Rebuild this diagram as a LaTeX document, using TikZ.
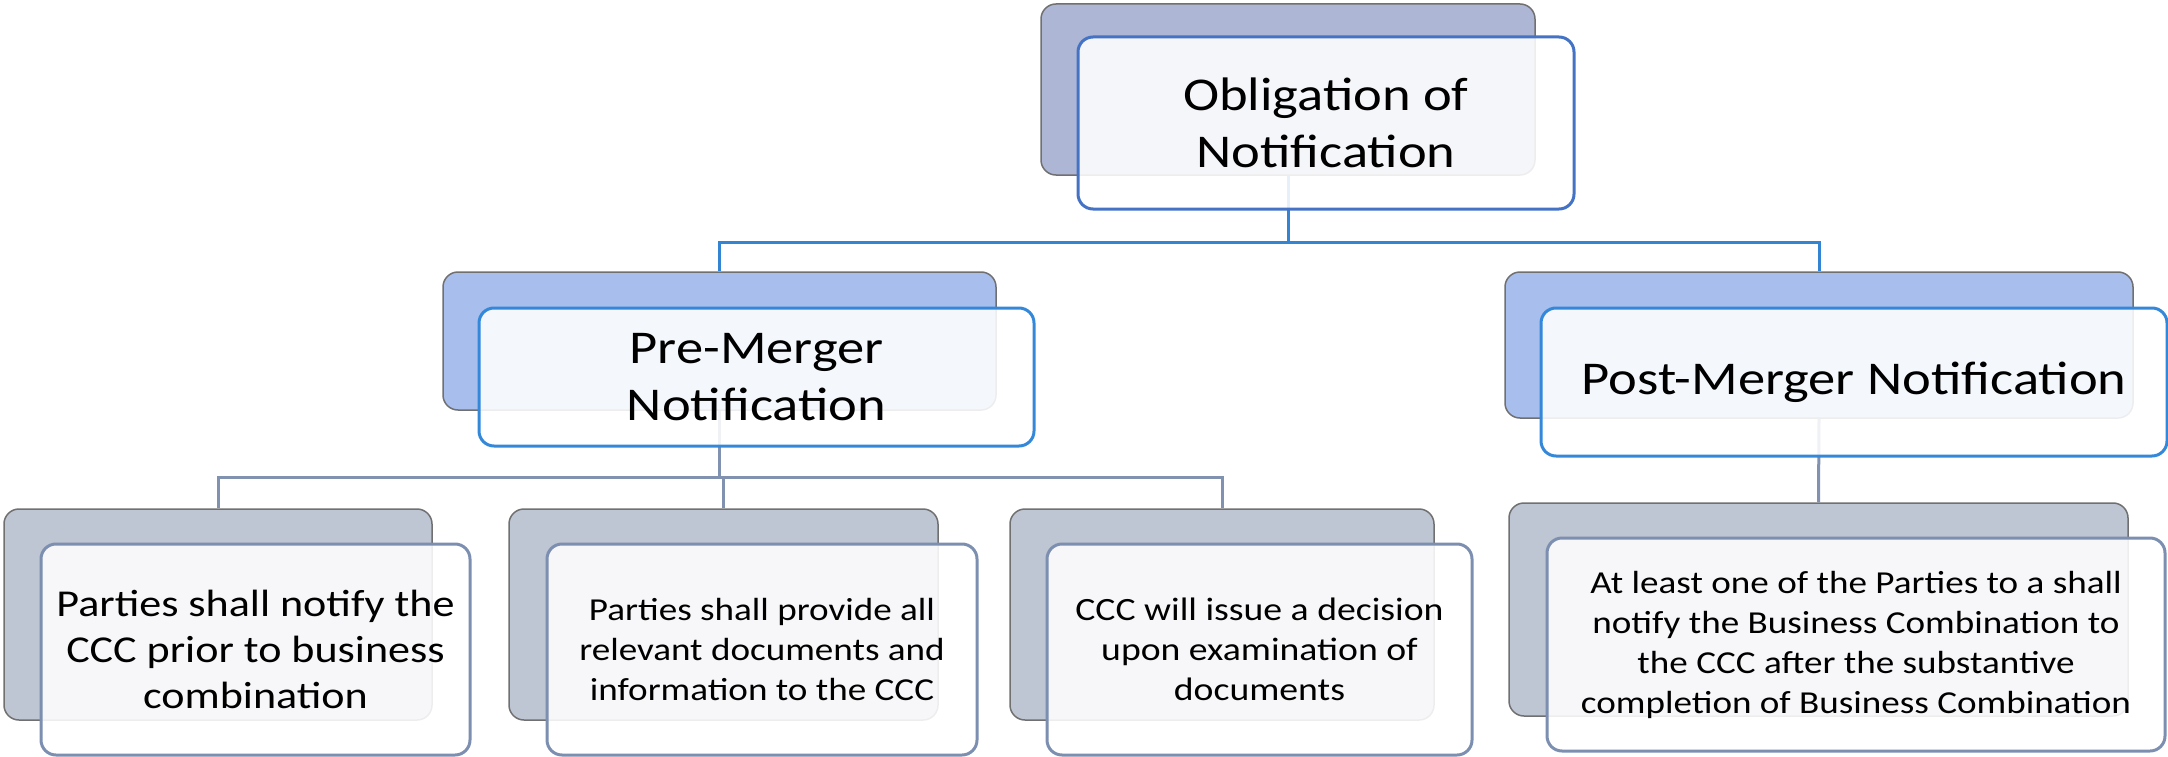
\documentclass[tikz,border=0pt]{standalone}
\usepackage{fontspec}
\setmainfont{Carlito}
\newfontfamily\wfont[FakeStretch=1.16]{Carlito}
\definecolor{topback}{RGB}{174,182,214}
\definecolor{topline}{RGB}{68,114,196}
\definecolor{midback}{RGB}{168,190,236}
\definecolor{midline}{RGB}{52,136,218}
\definecolor{leafback}{RGB}{190,197,211}
\definecolor{leafline}{RGB}{124,143,176}
\definecolor{backline}{RGB}{112,112,112}
\definecolor{bluecon}{RGB}{52,132,212}
\definecolor{greycon}{RGB}{128,146,176}
\tikzset{
  backbox/.style={draw=backline, line width=1.5pt, rounded corners=15pt, inner sep=0pt},
  frontbox/.style={draw=#1, line width=3pt, rounded corners=15pt, fill=white, fill opacity=0.88, text opacity=1, inner sep=0pt, align=center, text=black},
  bluelink/.style={draw=bluecon, line width=3pt},
  greylink/.style={draw=greycon, line width=3pt},
  bigtext/.style={font=\wfont\fontsize{47}{57}\selectfont},
  leaftext/.style={font=\wfont\fontsize{38}{46}\selectfont},
  smalltext/.style={font=\wfont\fontsize{32}{40}\selectfont},
  smalltextb/.style={font=\wfont\fontsize{32.5}{40}\selectfont},
}
\begin{document}
\begin{tikzpicture}[x=1pt,y=-1pt]
\useasboundingbox (0,0) rectangle (2168,757);
% back boxes
\node[backbox, fill=topback, minimum width=494pt, minimum height=171pt] (topB) at (1288,89.5) {};
\node[backbox, fill=midback, minimum width=553pt, minimum height=138pt] (preB) at (719.5,341) {};
\node[backbox, fill=midback, minimum width=628pt, minimum height=146pt] (postB) at (1819,345) {};
\node[backbox, fill=leafback, minimum width=428pt, minimum height=211pt] (c1B) at (218,614.5) {};
\node[backbox, fill=leafback, minimum width=429pt, minimum height=211pt] (c2B) at (723.5,614.5) {};
\node[backbox, fill=leafback, minimum width=424pt, minimum height=211pt] (c3B) at (1222,614.5) {};
\node[backbox, fill=leafback, minimum width=619pt, minimum height=213pt] (c4B) at (1818.5,609.5) {};
% connectors
\draw[bluelink] (topB.south) -- ++(0,67) -| (preB.north);
\draw[bluelink] (topB.south) -- ++(0,67) -| (postB.north);
\draw[greylink] (preB.south) -- ++(0,67) -| (c1B.north);
\draw[greylink] (preB.south) -- ++(0,67) -| (c2B.north);
\draw[greylink] (preB.south) -- ++(0,67) -| (c3B.north);
\draw[greylink] (postB.south) -- (c4B.north);
% front boxes
\node[frontbox=topline, bigtext, minimum width=496pt, minimum height=172pt] (topF) at (1326,123) {Obligation of\\Notification};
\node[frontbox=midline, bigtext, minimum width=555pt, minimum height=138pt] (preF) at (756.5,377) {Pre-Merger\\Notification};
\node[frontbox=midline, bigtext, minimum width=626pt, minimum height=148pt] (postF) at (1854,382) {Post-Merger Notification};
\node[frontbox=leafline, leaftext, minimum width=429pt, minimum height=211pt] (c1F) at (255.5,649.5) {Parties shall notify the\\CCC prior to business\\combination};
\node[frontbox=leafline, smalltext, minimum width=430pt, minimum height=211pt] (c2F) at (762,649.5) {Parties shall provide all\\relevant documents and\\information to the CCC};
\node[frontbox=leafline, smalltextb, minimum width=425pt, minimum height=211pt] (c3F) at (1259.5,649.5) {CCC will issue a decision\\upon examination of\\documents};
\node[frontbox=leafline, smalltext, minimum width=618pt, minimum height=213pt] (c4F) at (1856,644.5) {At least one of the Parties to a shall\\notify the Business Combination to\\the CCC after the substantive\\completion of Business Combination};
\end{tikzpicture}
\end{document}
